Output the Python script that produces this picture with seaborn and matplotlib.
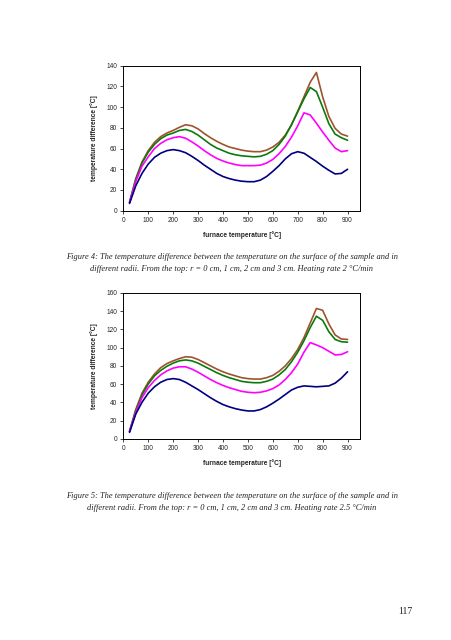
import numpy as np
import pandas as pd
import matplotlib

matplotlib.use('Agg')
import matplotlib.pyplot as plt
import seaborn as sns

# furnace temperature grid (deg C)
furnace_t = [25, 50, 75, 100, 125, 150, 175, 200, 225, 250, 275, 300, 325, 350, 375, 400, 425, 450,
             475, 500, 525, 550, 575, 600, 625, 650, 675, 700, 725, 750, 775, 800, 825, 850, 875, 900]
radii = ['r = 0 cm', 'r = 1 cm', 'r = 2 cm', 'r = 3 cm']

##################### Figure 4, heating rate 2 C/min
fig4_r0 = [8, 31, 47, 58, 66, 71.5, 75, 77.5, 80.5, 83, 82, 79, 74.5, 70.5, 67, 64, 61.5, 60,
           58.5, 57.5, 57, 57, 58.5, 61.5, 66, 73, 83, 96, 110, 124, 133.5, 110, 91, 79.5, 74, 72]
fig4_r1 = [8, 30, 46, 56.5, 64, 69.5, 73, 75, 77.5, 78.5, 76.5, 73, 68.5, 64, 60.5, 58, 55.5, 54,
           53, 52.5, 52, 52.5, 54.5, 58, 64, 72, 83, 95.5, 108, 119, 115, 100, 84, 74, 70.5, 68]
fig4_r2 = [8, 28, 43, 52, 60, 65, 68.5, 70.5, 71.5, 70, 66.5, 62.5, 58, 54, 50.5, 48, 46, 44.5,
           43.5, 43.5, 43.5, 44, 46, 49.5, 55, 62, 71, 82, 94.5, 92.5, 84.5, 76, 68, 60.5, 57, 58]
fig4_r3 = [7, 24, 36, 45, 51.5, 55.5, 58, 59, 58, 56, 52.5, 48.5, 44, 40, 36, 33, 31, 29.5,
           28.5, 28, 28, 29.5, 33, 38, 43.5, 50, 55, 57, 55.5, 51.5, 47.5, 43, 39, 35.5, 36, 40]

##################### Figure 5, heating rate 2.5 C/min
fig5_r0 = [8, 32, 50, 62, 71, 78, 82.5, 85.5, 88, 90, 89.5, 87, 83.5, 80, 76.5, 73.5, 71, 69,
           67, 66, 65.5, 65.5, 67, 69.5, 74, 80, 88, 98, 111, 127, 143, 141, 126, 114, 109.5, 109]
fig5_r1 = [8, 31, 48, 60, 69, 75, 79.5, 83, 85.5, 86.5, 85.5, 83, 79.5, 76, 72.5, 69.5, 67, 65,
           63, 62, 61.5, 61.5, 63, 65.5, 70, 76, 84.5, 95, 107.5, 122, 134.5, 130, 117.5, 109, 106.5, 106]
fig5_r2 = [8, 29, 45, 56, 64, 70, 74.5, 77.5, 79, 79, 76.5, 73, 69, 65, 61.5, 58.5, 56, 54,
           52, 51, 50.5, 51, 52.5, 55, 59, 65, 72.5, 82, 95, 105.5, 103, 100, 96, 92, 92.5, 95.5]
fig5_r3 = [7, 27, 40, 50, 57, 62, 65, 66, 65, 62, 58, 54, 49.5, 45, 41, 37.5, 35, 33,
           31.5, 30.5, 30.5, 32, 35, 39, 43.5, 48.5, 53.5, 56.5, 58, 57.5, 57, 57.5, 58, 61, 66.5, 73.5]

colors = ['#A0522D', '#0A7A0A', '#FF00FF', '#000080']

captions = [
    'Figure 4: The temperature difference between the temperature on the surface of the sample and in\n'
    'different radii. From the top: r = 0 cm, 1 cm, 2 cm and 3 cm. Heating rate 2 \u00b0C/min',
    'Figure 5: The temperature difference between the temperature on the surface of the sample and in\n'
    'different radii. From the top: r = 0 cm, 1 cm, 2 cm and 3 cm. Heating rate 2.5 \u00b0C/min',
]


def long_df(series):
    rows = []
    for lab, vals in zip(radii, series):
        rows.append(pd.DataFrame({'furnace': furnace_t, 'diff': vals, 'radius': lab}))
    return pd.concat(rows, ignore_index=True)


sns.set_style("ticks")
plt.rcParams['font.family'] = ['Liberation Sans', 'DejaVu Sans']

fig = plt.figure(figsize=[4.52, 6.4], dpi=100)
ax1 = fig.add_axes([0.2728, 0.6708, 0.5237, 0.2265])
ax2 = fig.add_axes([0.2728, 0.3145, 0.5237, 0.2277])

panels = [(ax1, [fig4_r0, fig4_r1, fig4_r2, fig4_r3], 140, 20),
          (ax2, [fig5_r0, fig5_r1, fig5_r2, fig5_r3], 160, 20)]

for ax, series, ymax, ystep in panels:
    df = long_df(series)
    sns.lineplot(data=df, x='furnace', y='diff', hue='radius', palette=colors, ax=ax,
                 lw=1.2, legend=False)
    ax.set_xlim(0, 950)
    ax.set_ylim(0, ymax)
    ax.set_xticks(np.arange(0, 901, 100))
    ax.set_yticks(np.arange(0, ymax + 1, ystep))
    ax.tick_params(labelsize=4.7, length=2.5, width=0.6, direction='out', pad=2)
    for sp in ax.spines.values():
        sp.set_visible(True)
        sp.set_linewidth(0.7)
        sp.set_color('k')
    ax.set_xlabel('furnace temperature [\u00b0C]', fontsize=4.8, fontweight='bold', labelpad=5)
    ax.set_ylabel('temperature difference [\u00b0C]', fontsize=4.8, fontweight='bold', labelpad=6)

cap_font = ['Liberation Serif', 'DejaVu Serif']
fig.text(0.513, 1 - 263 / 640, captions[0], ha='center', va='center', fontsize=6.0,
         family=cap_font, style='italic', linespacing=1.75, color='#222222')
fig.text(0.513, 1 - 502 / 640, captions[1], ha='center', va='center', fontsize=6.0,
         family=cap_font, style='italic', linespacing=1.75, color='#222222')
fig.text(405 / 452, 1 - 612 / 640, '117', ha='center', va='center', fontsize=7,
         family=cap_font, color='#222222')

fig.savefig('out.png', dpi=100)
